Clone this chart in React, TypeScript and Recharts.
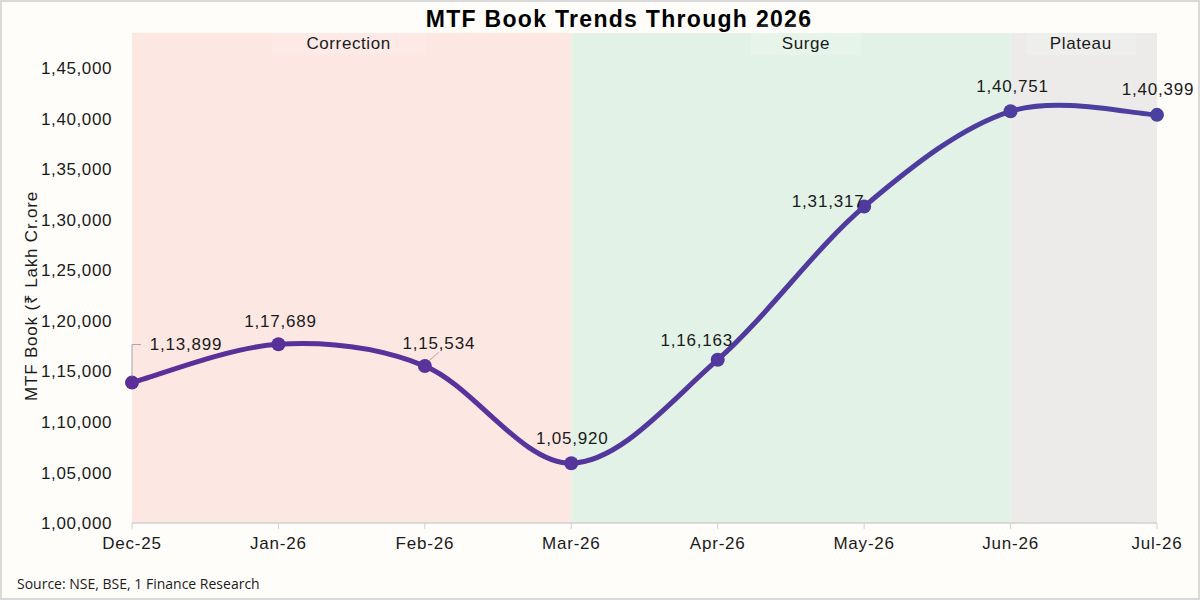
import React from "react";
import {
  LineChart,
  Line,
  XAxis,
  YAxis,
  ReferenceArea,
  LabelList,
} from "recharts";

const MONTHS = ["Dec-25", "Jan-26", "Feb-26", "Mar-26", "Apr-26", "May-26", "Jun-26", "Jul-26"];
const MTF_BOOK = [113899, 117689, 115534, 105920, 116163, 131317, 140751, 140399];
const Y_TICKS = [100000, 105000, 110000, 115000, 120000, 125000, 130000, 135000, 140000, 145000];

const PHASES = [
  { name: "Correction", from: "Dec-25", to: "Mar-26", fill: "#fde7e3" },
  { name: "Surge", from: "Mar-26", to: "Jun-26", fill: "#e2f2e6" },
  { name: "Plateau", from: "Jun-26", to: "Jul-26", fill: "#ecebe9" },
];

const data = MONTHS.map((month, i) => ({ month, value: MTF_BOOK[i] }));

const FONT = "'Liberation Sans', Arial, sans-serif";
const TXT = { fontSize: 17, letterSpacing: 0.6, fontFamily: FONT, fill: "#1a1a1a" };
const fmt = (v: number) => v.toLocaleString("en-IN");

// label placement relative to each point (centre of the text)
const LABEL_OFFSET: [number, number][] = [
  [54, -38],
  [2, -23],
  [14, -23],
  [1, -25],
  [-21, -19],
  [-36, -5],
  [2, -25],
  [1, -25],
];

// Excel-like smoothed line (cardinal spline, tension 0)
function smoothCurve(context: any) {
  let pts: [number, number][] = [];
  const k = 1 / 6;
  return {
    areaStart() {},
    areaEnd() {},
    lineStart() {
      pts = [];
    },
    lineEnd() {
      if (!pts.length) return;
      context.moveTo(pts[0][0], pts[0][1]);
      for (let i = 0; i < pts.length - 1; i++) {
        const p0 = pts[Math.max(i - 1, 0)];
        const p1 = pts[i];
        const p2 = pts[i + 1];
        const p3 = pts[Math.min(i + 2, pts.length - 1)];
        context.bezierCurveTo(
          p1[0] + k * (p2[0] - p0[0]),
          p1[1] + k * (p2[1] - p0[1]),
          p2[0] - k * (p3[0] - p1[0]),
          p2[1] - k * (p3[1] - p1[1]),
          p2[0],
          p2[1]
        );
      }
    },
    point(x: number, y: number) {
      pts.push([+x, +y]);
    },
  };
}

const PhaseLabel = ({ viewBox, value, boxWidth, shift }: any) => {
  const cx = viewBox.x + viewBox.width / 2 + (shift || 0);
  const top = viewBox.y;
  return (
    <g>
      <rect x={cx - boxWidth / 2} y={top - 8} width={boxWidth} height={30} fill="#ffffff" fillOpacity={0.15} />
      <text x={cx} y={top + 10} textAnchor="middle" dominantBaseline="central" {...TXT}>
        {value}
      </text>
    </g>
  );
};

const PointLabel = (props: any) => {
  const { index, value } = props;
  const x = props.x ?? props.viewBox?.x;
  const y = props.y ?? props.viewBox?.y;
  const [dx, dy] = LABEL_OFFSET[index] || [0, -24];
  return (
    <g>
      {index === 0 && (
        <polyline
          points={`${x},${y - 6} ${x},${y + dy} ${x + 9},${y + dy}`}
          fill="none"
          stroke="#a6a6a6"
          strokeWidth={1}
        />
      )}
      {index === 2 && (
        <line x1={x + 4} y1={y - 5} x2={x + 14} y2={y - 14} stroke="#a6a6a6" strokeWidth={1} />
      )}
      <text x={x + dx} y={y + dy} textAnchor="middle" dominantBaseline="central" {...TXT} letterSpacing={0.8}>
        {fmt(value)}
      </text>
    </g>
  );
};

export default function App() {
  return (
    <div
      style={{
        position: "absolute",
        left: 0,
        top: 0,
        width: 1200,
        height: 600,
        boxSizing: "border-box",
        border: "2px solid #d9d9d9",
        background: "#fffdfa",
        fontFamily: FONT,
      }}
    >
      <div
        style={{
          position: "absolute",
          left: 19,
          top: 4,
          width: 1196,
          textAlign: "center",
          fontSize: 23,
          letterSpacing: 1.3,
          fontWeight: "bold",
          color: "#000",
        }}
      >
        MTF Book Trends Through 2026
      </div>
      <div style={{ position: "absolute", left: -2, top: -2 }}>
        <LineChart width={1200} height={600} data={data} margin={{ top: 33, right: 43, left: 0, bottom: 47 }}>
          <defs>
            <linearGradient id="lineGrad" gradientUnits="userSpaceOnUse" x1={132} y1={0} x2={1157} y2={0}>
              <stop offset="0%" stopColor="#5c2e98" />
              <stop offset="100%" stopColor="#4a409f" />
            </linearGradient>
          </defs>
          {PHASES.map((p) => (
            <ReferenceArea
              key={p.name}
              x1={p.from}
              x2={p.to}
              y1={100000}
              y2={148500}
              fill={p.fill}
              fillOpacity={1}
              stroke="none"
              ifOverflow="extendDomain"
              label={(lp: any) => (
                <PhaseLabel
                  {...lp}
                  value={p.name}
                  boxWidth={p.name === "Correction" ? 152 : 110}
                  shift={p.name === "Surge" ? 15 : -3}
                />
              )}
            />
          ))}
          <XAxis
            dataKey="month"
            height={30}
            interval={0}
            axisLine={{ stroke: "#d0d0d0", strokeWidth: 1.5 }}
            tickLine={{ stroke: "#d0d0d0" }}
            tickSize={6}
            tick={{ ...TXT, letterSpacing: 0.8 }}
            tickMargin={8}
          />
          <YAxis
            width={132}
            domain={[100000, 148500]}
            ticks={Y_TICKS}
            interval={0}
            axisLine={false}
            tickLine={false}
            tickMargin={14}
            tickFormatter={fmt}
            tick={TXT}
            label={() => (
              <text
                x={31}
                y={296}
                transform="rotate(-90 31 296)"
                textAnchor="middle"
                dominantBaseline="central"
                {...TXT}
                letterSpacing={0.8}
              >
                MTF Book (₹ Lakh Cr.ore
              </text>
            )}
          />
          <Line
            dataKey="value"
            type={smoothCurve as any}
            stroke="url(#lineGrad)"
            strokeWidth={5}
            isAnimationActive={false}
            dot={(d: any) => <circle key={d.index} cx={d.cx} cy={d.cy} r={7} fill="url(#lineGrad)" />}
            activeDot={false}
          >
            <LabelList dataKey="value" content={<PointLabel />} />
          </Line>
        </LineChart>
      </div>
      <div
        style={{
          position: "absolute",
          left: 15,
          top: 572,
          fontSize: 14,
          fontFamily: "'Open Sans', sans-serif",
          color: "#1a1a1a",
        }}
      >
        Source: NSE, BSE, 1 Finance Research
      </div>
    </div>
  );
}
